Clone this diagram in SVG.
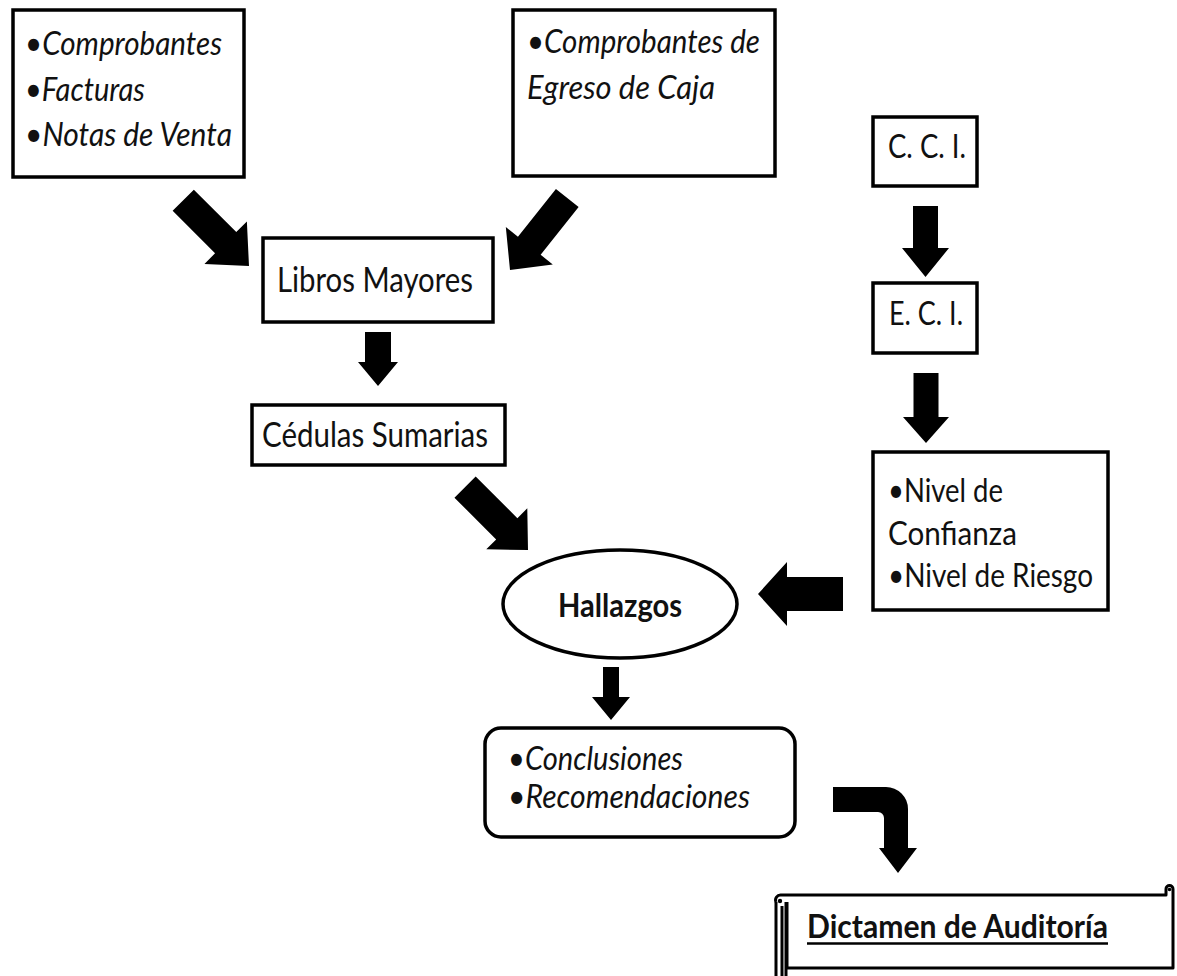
<svg xmlns="http://www.w3.org/2000/svg" width="1177" height="976" viewBox="0 0 1177 976">
  <style>
    .box { fill: #ffffff; stroke: #000000; stroke-width: 3.5; }
    .t { font-family: Lato, "Open Sans", "Liberation Sans", sans-serif; font-size: 33px; fill: #111111; }
    .up { font-size: 34px; }
    .it { font-style: italic; }
    .b { font-weight: bold; }
    .arrow { fill: #000000; stroke: none; }
    .scroll { fill: #ffffff; stroke: #000000; stroke-width: 3; stroke-linejoin: round; }
  </style>

  <rect width="1177" height="976" fill="#ffffff"/>

  <!-- source documents -->
  <g id="node-comprobantes">
    <rect class="box" x="13" y="10" width="231" height="167"/>
    <text class="t it" x="25" y="55" textLength="197" lengthAdjust="spacingAndGlyphs">•Comprobantes</text>
    <text class="t it" x="25" y="101" textLength="120" lengthAdjust="spacingAndGlyphs">•Facturas</text>
    <text class="t it" x="25" y="146" textLength="207" lengthAdjust="spacingAndGlyphs">•Notas de Venta</text>
  </g>

  <g id="node-egreso">
    <rect class="box" x="513" y="10" width="262" height="166"/>
    <text class="t it" x="527" y="53" textLength="233" lengthAdjust="spacingAndGlyphs">•Comprobantes de</text>
    <text class="t it" x="527" y="99" textLength="188" lengthAdjust="spacingAndGlyphs">Egreso de Caja</text>
  </g>

  <g id="node-libros">
    <rect class="box" x="263" y="238" width="230" height="84"/>
    <text class="t up" x="277" y="292" textLength="196" lengthAdjust="spacingAndGlyphs">Libros Mayores</text>
  </g>

  <g id="node-cedulas">
    <rect class="box" x="252" y="405" width="253" height="60"/>
    <text class="t up" x="262" y="447" textLength="226" lengthAdjust="spacingAndGlyphs">Cédulas Sumarias</text>
  </g>

  <!-- internal control column -->
  <g id="node-cci">
    <rect class="box" x="873" y="117" width="104" height="69"/>
    <text class="t" x="888" y="158" textLength="78" lengthAdjust="spacingAndGlyphs">C. C. I.</text>
  </g>

  <g id="node-eci">
    <rect class="box" x="873" y="283" width="104" height="70"/>
    <text class="t" x="889" y="325" textLength="74" lengthAdjust="spacingAndGlyphs">E. C. I.</text>
  </g>

  <g id="node-nivel">
    <rect class="box" x="873" y="452" width="235" height="158"/>
    <text class="t" x="888" y="502" textLength="115" lengthAdjust="spacingAndGlyphs">•Nivel de</text>
    <text class="t" x="888" y="545" textLength="129" lengthAdjust="spacingAndGlyphs">Confianza</text>
    <text class="t" x="888" y="587" textLength="205" lengthAdjust="spacingAndGlyphs">•Nivel de Riesgo</text>
  </g>

  <!-- findings and results -->
  <g id="node-hallazgos">
    <ellipse class="box" cx="620" cy="604" rx="117" ry="54"/>
    <text class="t b" x="558" y="617" textLength="124" lengthAdjust="spacingAndGlyphs">Hallazgos</text>
  </g>

  <g id="node-conclusiones">
    <rect class="box" x="485" y="728" width="310" height="109" rx="16" ry="16"/>
    <text class="t it" x="508" y="770" textLength="175" lengthAdjust="spacingAndGlyphs">•Conclusiones</text>
    <text class="t it" x="508" y="808" textLength="242" lengthAdjust="spacingAndGlyphs">•Recomendaciones</text>
  </g>

  <g id="node-dictamen">
    <!-- rolled left edge running below the page -->
    <path class="scroll" d="M776,902 V990 H786 V902"/>
    <path class="scroll" d="M782,906 V990"/>
    <!-- scroll body with the top-right curl -->
    <path class="scroll" d="M776,902 A5,5 0 0 1 781,895 H1166 V889 A3.5,3.5 0 0 1 1173,889 V968 H787 V902"/>
    <circle cx="780" cy="901" r="2.2" fill="#000000"/>
    <circle cx="1169.5" cy="889.5" r="1.8" fill="#000000"/>
    <text class="t b" x="807" y="938" textLength="301" lengthAdjust="spacingAndGlyphs">Dictamen de Auditoría</text>
    <line x1="807" y1="943.5" x2="1108" y2="943.5" stroke="#000000" stroke-width="2.5"/>
  </g>

  <!-- block arrows: local shape points along +x with its tip at the origin -->
  <g id="connectors">
    <polygon class="arrow" transform="translate(249,266) rotate(45)" points="-93,-15 -33,-15 -33,-30 0,0 -33,30 -33,15 -93,15"/>
    <polygon class="arrow" transform="translate(510,270) rotate(128.5)" points="-92,-14.5 -31,-14.5 -31,-30 0,0 -31,30 -31,14.5 -92,14.5"/>
    <polygon class="arrow" transform="translate(378,386) rotate(90)" points="-54,-13 -24,-13 -24,-20 0,0 -24,20 -24,13 -54,13"/>
    <polygon class="arrow" transform="translate(528,550) rotate(45)" points="-89,-15 -30,-15 -30,-29 0,0 -30,29 -30,15 -89,15"/>
    <polygon class="arrow" transform="translate(925.5,277) rotate(90)" points="-71,-12.5 -29,-12.5 -29,-23.5 0,0 -29,23.5 -29,12.5 -71,12.5"/>
    <polygon class="arrow" transform="translate(926,443) rotate(90)" points="-70,-12.5 -26,-12.5 -26,-23 0,0 -26,23 -26,12.5 -70,12.5"/>
    <polygon class="arrow" transform="translate(758,594) rotate(180)" points="-85,-17 -29,-17 -29,-32 0,0 -29,32 -29,17 -85,17"/>
    <polygon class="arrow" transform="translate(611,720) rotate(90)" points="-53,-8 -23,-8 -23,-19 0,0 -23,19 -23,8 -53,8"/>
    <path class="arrow" d="M833,787 H886 A22,22 0 0 1 908,809 V848 H917 L898,873 L879,848 H884 V818 A6,6 0 0 0 878,812 H833 Z"/>
  </g>
</svg>
